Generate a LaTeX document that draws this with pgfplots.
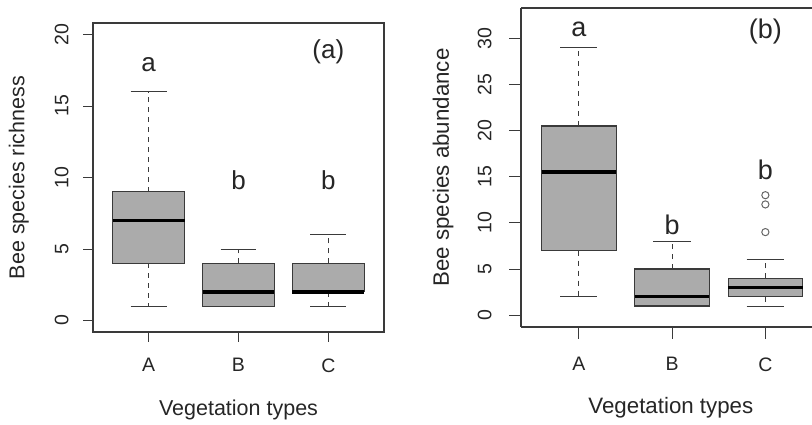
\documentclass[border=0pt]{standalone}
\usepackage{fontspec}
\setmainfont{Liberation Sans}
\usepackage{pgfplots}
\pgfplotsset{compat=1.18}
\usepgfplotslibrary{statistics}

\definecolor{boxgray}{HTML}{ABABAB}
\definecolor{edge}{HTML}{3A3A3A}
\definecolor{txt}{HTML}{262626}

% box look, dashed whisker, solid staple
\pgfplotsset{
  /pgfplots/boxplot/draw direction=y,
  /pgfplots/boxplot/box extend=0.8,
  /pgfplots/boxplot/whisker extend=0.4,
  /pgfplots/boxplot/every box/.style={draw=edge, fill=boxgray, line width=1.1pt},
  /pgfplots/boxplot/every median/.style={black, line width=3.5pt},
  /pgfplots/boxplot/every whisker/.style={edge, line width=0.9pt},
  /pgfplots/boxplot/draw/whisker/.code 2 args={
    \draw[/pgfplots/boxplot/every whisker/.try, dash pattern=on 5pt off 5pt]
      (boxplot whisker cs:#1,0.5) -- (boxplot whisker cs:#2,0.5);
    \draw[/pgfplots/boxplot/every whisker/.try]
      (boxplot whisker cs:#2,0) -- (boxplot whisker cs:#2,1);
  },
}

\pgfplotsset{
  rbox/.style={
    scale only axis,
    anchor=south west,
    xmin=0.38, xmax=3.62,
    xtick={1,2,3}, xticklabels={A,B,C},
    xtick pos=bottom, ytick pos=left,
    tick align=outside, major tick length=10pt,
    tick style={edge, line width=0.8pt},
    axis line style={edge, line width=1.2pt},
    /pgf/number format/assume math mode=true,
    ticklabel style={font=\fontsize{19.5}{22}\selectfont, text=txt},
    yticklabel style={rotate=90, anchor=south},
    every axis y label/.style={rotate=90, anchor=center, font=\fontsize{21.5}{25}\selectfont, text=txt},
    every axis x label/.style={anchor=center, font=\fontsize{21.5}{25}\selectfont, text=txt},
  },
}
\tikzset{letter/.style={font=\fontsize{26}{30}\selectfont, text=txt, anchor=center}}

\begin{document}
\begin{tikzpicture}
\useasboundingbox (0,0) rectangle (812pt,425pt);

% (a) richness
\begin{axis}[rbox,
    at={(93pt,93pt)}, width=291pt, height=309pt,
    ymin=-0.8, ymax=20.8, ytick={0,5,10,15,20},
    yticklabel style={yshift=11pt},
    xticklabel style={yshift=-13pt},
    xlabel={Vegetation types}, ylabel={Bee species richness},
    xlabel style={at={(axis description cs:0.5,-0.252)}},
    ylabel style={at={(axis description cs:-0.255,0.5)}},
]
\addplot[boxplot prepared={draw position=1, lower whisker=1, lower quartile=4,
    median=7, upper quartile=9, upper whisker=16}] coordinates {};
\addplot[boxplot prepared={draw position=2, lower whisker=1, lower quartile=1,
    median=2, upper quartile=4, upper whisker=5}] coordinates {};
\addplot[boxplot prepared={draw position=3, lower whisker=1, lower quartile=2,
    median=2, upper quartile=4, upper whisker=6}] coordinates {};
\node[letter] at (axis cs:1,17.9) {a};
\node[letter] at (axis cs:2,9.8) {b};
\node[letter] at (axis cs:3,9.8) {b};
\node[letter] at (axis cs:3,18.8) {(a)};
\end{axis}

% (b) abundance
\begin{axis}[rbox,
    at={(521pt,98pt)}, width=291pt, height=319pt,
    xmax=3.5, axis y line*=left,
    ymin=-1.28, ymax=33.28, ytick={0,5,10,15,20,25,30},
    major tick length=12pt,
    yticklabel style={yshift=14pt},
    xticklabel style={yshift=-15pt},
    xlabel={Vegetation types}, ylabel={Bee species abundance},
    xlabel style={at={(axis description cs:0.515,-0.253)}, font=\fontsize{22.3}{26}\selectfont},
    ylabel style={at={(axis description cs:-0.268,0.5)}, font=\fontsize{22.3}{26}\selectfont},
]
\addplot[boxplot prepared={draw position=1, lower whisker=2, lower quartile=7,
    median=15.5, upper quartile=20.5, upper whisker=29}] coordinates {};
\addplot[boxplot prepared={draw position=2, lower whisker=1, lower quartile=1,
    median=2, upper quartile=5, upper whisker=8}] coordinates {};
\addplot[boxplot prepared={draw position=3, lower whisker=1, lower quartile=2,
    median=3, upper quartile=4, upper whisker=6},
    mark=o, mark size=3.6pt, mark options={draw=black!60, line width=1pt}]
    table[row sep=\\, y index=0] {data\\ 9\\ 12\\ 13\\};
\node[letter, font=\fontsize{27}{31}\selectfont] at (axis cs:1,31) {a};
\node[letter, font=\fontsize{27}{31}\selectfont] at (axis cs:2,9.8) {b};
\node[letter, font=\fontsize{27}{31}\selectfont] at (axis cs:3,15.75) {b};
\node[letter, font=\fontsize{27}{31}\selectfont] at (axis cs:3,30.7) {(b)};
\end{axis}
\end{tikzpicture}
\end{document}
